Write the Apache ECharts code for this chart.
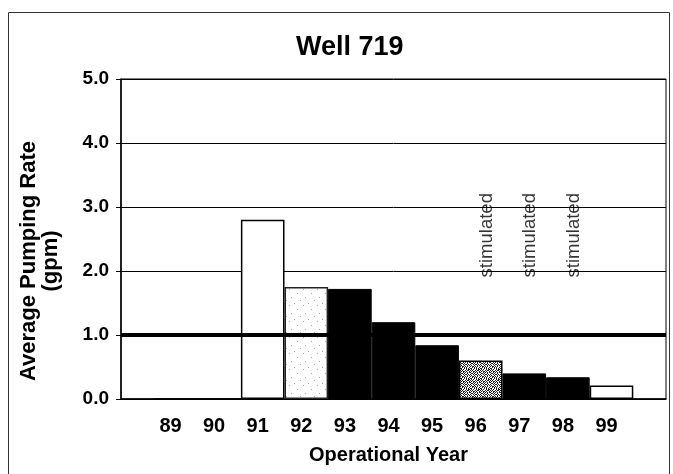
<!DOCTYPE html>
<html>
<head>
<meta charset="utf-8">
<title>Well 719</title>
<script src="https://cdn.jsdelivr.net/npm/echarts@6/dist/echarts.min.js"></script>
<style>
  html, body { margin: 0; padding: 0; background: #fff; }
  #main { width: 673px; height: 474px; }
</style>
</head>
<body>
<div id="main"></div>
<script>
// operational years and average pumping rate (gpm)
var years = [89, 90, 91, 92, 93, 94, 95, 96, 97, 98, 99];
var rates = [0, 0, 2.8, 1.75, 1.72, 1.2, 0.84, 0.6, 0.4, 0.34, 0.21];
var stimulatedYears = [96, 97, 98];
var targetRate = 1.0;
var yTicks = [0, 1, 2, 3, 4, 5];

var FONT = '"Liberation Sans", Arial, sans-serif';

// little fill textures, the scan uses stipple for 92 and 96
function makePattern(rows, ink, paper) {
  var c = document.createElement('canvas');
  c.width = rows[0].length;
  c.height = rows.length;
  var ctx = c.getContext('2d');
  ctx.fillStyle = paper;
  ctx.fillRect(0, 0, c.width, c.height);
  ctx.fillStyle = ink;
  for (var y = 0; y < rows.length; y++) {
    for (var x = 0; x < rows[y].length; x++) {
      if (rows[y][x] === '#') ctx.fillRect(x, y, 1, 1);
    }
  }
  return { image: c, repeat: 'repeat' };
}

var lightDots = makePattern([
  '..............',
  '.........#....',
  '..............',
  '..............',
  '..............',
  '...#..........',
  '..............',
  '..............',
  '..............',
  '...........#..',
  '..............',
  '..............',
  '......#.......',
  '..............',
  '..............',
  '#.............'
], '#aaa', '#fff');

var denseDots = makePattern([
  '#.#..#.##.',
  '.#.##.#..#',
  '#..#.#.#.#',
  '.##.#..#..',
  '#..#.##.#.',
  '.#..#..#.#',
  '#.##.#.#..',
  '..#.#.#..#',
  '##..#.#.#.',
  '.#.#..#.##'
], '#222', '#fff');

// fill style per year
var barStyles = {
  91: { color: '#fff', borderColor: '#000', borderWidth: 1.5 },
  92: { color: lightDots, borderColor: '#222', borderWidth: 1.5 },
  96: { color: denseDots, borderColor: '#000', borderWidth: 1.5 },
  99: { color: '#fff', borderColor: '#000', borderWidth: 1.5 }
};
var solidStyle = { color: '#000', borderColor: '#000', borderWidth: 1 };

var barData = years.map(function (yr, i) {
  return { value: [yr, rates[i]], itemStyle: barStyles[yr] || solidStyle };
});

var noteData = stimulatedYears.map(function (yr) {
  return [yr, 1.9];
});

var myChart = echarts.init(document.getElementById('main'));

var option = {
  animation: false,
  backgroundColor: '#fff',
  title: {
    text: 'Well 719',
    left: 291,
    top: 29,
    textStyle: { fontFamily: FONT, fontWeight: 'bold', fontSize: 27, color: '#000' }
  },
  graphic: [
    {
      type: 'rect',
      shape: { x: 8.5, y: 12.5, width: 661, height: 480 },
      style: { fill: 'none', stroke: '#333', lineWidth: 1 },
      silent: true
    }
  ],
  grid: {
    left: 121,
    right: 7,
    top: 79,
    bottom: 75,
    show: true,
    borderColor: '#000',
    borderWidth: 1
  },
  xAxis: {
    type: 'value',
    min: 87.75,
    max: 100.25,
    axisLine: { show: true, onZero: false, lineStyle: { color: '#000', width: 1.5 } },
    axisTick: { show: false },
    splitLine: { show: false },
    axisLabel: {
      customValues: years,
      formatter: function (v) { return String(v); },
      color: '#000',
      fontFamily: FONT,
      fontWeight: 'bold',
      fontSize: 20,
      margin: 17,
      padding: [0, 10, 0, 0]
    },
    name: 'Operational Year',
    nameLocation: 'middle',
    nameGap: 46,
    nameTextStyle: {
      fontFamily: FONT,
      fontWeight: 'bold',
      fontSize: 20,
      color: '#000',
      padding: [0, 10, 0, 0]
    }
  },
  yAxis: {
    type: 'value',
    min: 0,
    max: 5,
    interval: 1,
    axisLine: { show: true, lineStyle: { color: '#000', width: 1.5 } },
    axisTick: { show: true, length: 5, lineStyle: { color: '#000' } },
    splitLine: { show: true, lineStyle: { color: '#000', width: 1 } },
    axisLabel: {
      customValues: yTicks,
      formatter: function (v) { return v.toFixed(1); },
      color: '#000',
      fontFamily: FONT,
      fontWeight: 'bold',
      fontSize: 19,
      margin: 12
    },
    name: 'Average Pumping Rate\n(gpm)',
    nameLocation: 'middle',
    nameRotate: 90,
    nameGap: 59,
    nameTextStyle: {
      fontFamily: FONT,
      fontWeight: 'bold',
      fontSize: 22,
      lineHeight: 22,
      color: '#000',
      padding: [0, 44, 0, 0]
    }
  },
  series: [
    {
      name: 'Average Pumping Rate',
      type: 'bar',
      barWidth: '100%',
      data: barData,
      markLine: {
        silent: true,
        symbol: ['none', 'none'],
        label: { show: false },
        lineStyle: { color: '#000', width: 4, type: 'solid' },
        data: [{ yAxis: targetRate }]
      }
    },
    {
      name: 'stimulated',
      type: 'scatter',
      symbolSize: 0,
      data: noteData,
      z: 5,
      label: {
        show: true,
        formatter: 'stimulated',
        position: 'inside',
        rotate: 90,
        align: 'left',
        verticalAlign: 'middle',
        offset: [0, 6],
        color: '#000',
        fontFamily: FONT,
        fontSize: 18.5
      }
    }
  ]
};

myChart.setOption(option);
</script>
</body>
</html>
